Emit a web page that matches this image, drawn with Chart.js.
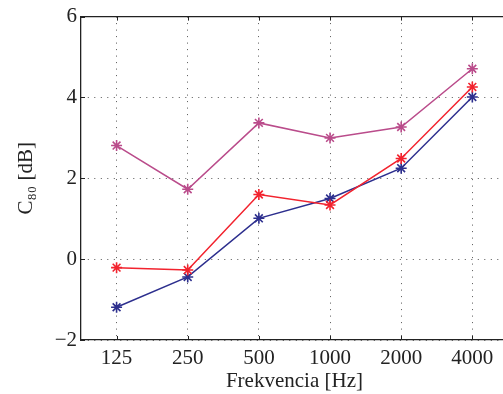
<!DOCTYPE html>
<html>
<head>
<meta charset="utf-8">
<script src="https://cdn.jsdelivr.net/npm/chart.js@4"></script>
<style>
  html, body { margin: 0; padding: 0; background: #fff; overflow: hidden; }
  #wrap { width: 515px; height: 394px; }
</style>
</head>
<body>
<div id="wrap"><canvas id="myChart" width="515" height="394"></canvas></div>
<script>
// data
const frekvencie = ['125', '250', '500', '1000', '2000', '4000'];
const seriaFialova = [2.81, 1.73, 3.37, 3.00, 3.27, 4.71];
const seriaCervena = [-0.21, -0.27, 1.60, 1.34, 2.49, 4.26];
const seriaModra = [-1.19, -0.44, 1.01, 1.50, 2.25, 4.01];
const yTicks = [-2, 0, 2, 4, 6];

const font = { family: 'Liberation Serif', size: 21 };

// horny a pravy okraj osi + male ticky dovnutra (ako v MATLABe)
const boxPlugin = {
  id: 'box',
  afterDraw(chart) {
    const a = chart.chartArea, c = chart.ctx;
    const sx = chart.scales.x, sy = chart.scales.y;
    c.save();
    c.strokeStyle = '#222';
    c.lineWidth = 1.3;
    c.beginPath();
    c.moveTo(a.left, a.top);
    c.lineTo(a.right, a.top);
    c.lineTo(a.right, a.bottom);
    c.stroke();
    c.lineWidth = 1;
    c.beginPath();
    sx.ticks.forEach((t, i) => {
      const x = Math.round(sx.getPixelForTick(i)) + 0.5;
      c.moveTo(x, a.bottom); c.lineTo(x, a.bottom - 4);
      c.moveTo(x, a.top); c.lineTo(x, a.top + 4);
    });
    sy.ticks.forEach(t => {
      const y = Math.round(sy.getPixelForValue(t.value)) + 0.5;
      c.moveTo(a.left, y); c.lineTo(a.left + 4, y);
    });
    c.stroke();
    c.restore();
  }
};

function serie(data, color) {
  return {
    data: data,
    borderColor: color,
    backgroundColor: color,
    borderWidth: 1.5,
    pointStyle: 'star',
    pointRadius: 5.5,
    pointBorderWidth: 1.6,
    tension: 0
  };
}

new Chart(document.getElementById('myChart'), {
  type: 'line',
  data: {
    labels: frekvencie,
    datasets: [
      serie(seriaFialova, '#BA4C8B'),
      serie(seriaCervena, '#F2232E'),
      serie(seriaModra, '#2D2F8E')
    ]
  },
  plugins: [boxPlugin],
  options: {
    responsive: false,
    animation: false,
    layout: { padding: { top: 16, right: 3, left: 0, bottom: 0 } },
    plugins: { legend: { display: false }, tooltip: { enabled: false } },
    scales: {
      x: {
        offset: true,
        grid: { color: '#555', drawTicks: false, offset: false },
        border: { color: '#222', width: 1.3, dash: [1, 5.5] },
        ticks: { color: '#222', font: font, padding: 6 },
        title: { display: true, text: 'Frekvencia [Hz]', color: '#222', font: font, padding: 0 },
        afterFit(s) { s.height = 54; }
      },
      y: {
        min: -2,
        max: 6,
        afterBuildTicks(s) { s.ticks = yTicks.map(v => ({ value: v })); },
        grid: { color: '#555', drawTicks: false },
        border: { color: '#222', width: 1.3, dash: [1, 5.5] },
        ticks: {
          color: '#222', font: font, padding: 4,
          callback: v => String(v).replace('-', '\u2212')
        },
        title: { display: true, text: 'C₈₀ [dB]', color: '#222', font: font, padding: { top: 14, bottom: 0 } },
        afterFit(s) { s.width = 81; }
      }
    }
  }
});
</script>
</body>
</html>
